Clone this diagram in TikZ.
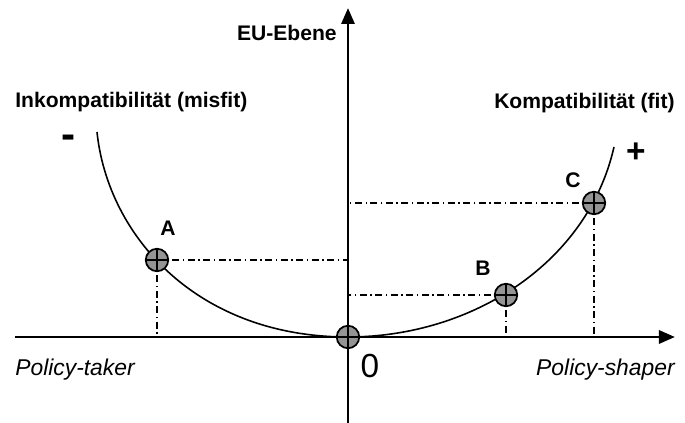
\documentclass[tikz,border=0pt]{standalone}
\usepackage{fontspec}
\setmainfont{Liberation Sans}
\usetikzlibrary{arrows.meta}
\tikzset{
  pkt/.style={circle,draw,line width=1pt,fill=black!42,minimum size=.45cm,inner sep=0pt,
    path picture={\draw[line width=.8pt](path picture bounding box.north)--(path picture bounding box.south)
      (path picture bounding box.west)--(path picture bounding box.east);}},
  hilf/.style={line width=.6pt,dash pattern=on 4pt off 2pt on .8pt off 2pt},
  lbl/.style={font=\fontsize{12}{14}\selectfont\bfseries},
  pol/.style={font=\fontsize{13}{15}\selectfont\itshape,inner sep=0pt},
  sgn/.style={font=\fontsize{19}{22}\selectfont\bfseries},
  achse/.style={line width=1.7pt,-{Triangle[length=.32cm,width=.26cm]}},
}
\begin{document}
\begin{tikzpicture}
  \useasboundingbox (-6.96,-1.72) rectangle (6.74,6.74);
  \coordinate (O) at (0,0);
  \coordinate (A) at (-3.82,1.54);
  \coordinate (B) at (3.16,.84);
  \coordinate (C) at (4.92,2.68);
  \draw[hilf] (A) -- (A -| O) (A) -- (A |- O);
  \draw[hilf] (B) -- (B -| O) (B) -- (B |- O);
  \draw[hilf] (C) -- (C -| O) (C) -- (C |- O);
  \draw[achse] (-6.66,0) -- (6.54,0);
  \draw[achse] (0,-1.72) -- (0,6.58);
  \draw[line width=.9pt] (-5.02,4.1) .. controls (-4.8,2) and (-3,0) .. (O)
    .. controls (2.5,0) and (4.8,1.5) .. (5.32,3.8);
  \node[pkt] (pO) at (O) {};
  \node[pkt] (pA) at (A) {};
  \node[pkt] (pB) at (B) {};
  \node[pkt] (pC) at (C) {};
  \node[lbl] (lA) at (-3.6,2.18) {A};
  \node[lbl] (lB) at (2.7,1.38) {B};
  \node[lbl] (lC) at (4.5,3.14) {C};
  \node[lbl,anchor=east,inner sep=0pt] (eu) at (-.22,6.08) {EU-Ebene};
  \node[lbl,anchor=west,inner sep=0pt] (misfit) at (-6.66,4.7) {Inkompatibilität (misfit)};
  \node[lbl,anchor=east,inner sep=0pt] (fit) at (6.54,4.68) {Kompatibilität (fit)};
  \node[sgn,font=\fontsize{24}{26}\selectfont\bfseries] (minus) at (-5.58,3.9) {-};
  \node[sgn] (plus) at (5.76,3.68) {+};
  \node[font=\fontsize{19}{21}\selectfont] (null) at (.44,-.58) {0};
  \node[pol,anchor=west] (taker) at (-6.66,-.66) {Policy-taker};
  \node[pol,anchor=east] (shaper) at (6.54,-.66) {Policy-shaper};
\end{tikzpicture}
\end{document}
